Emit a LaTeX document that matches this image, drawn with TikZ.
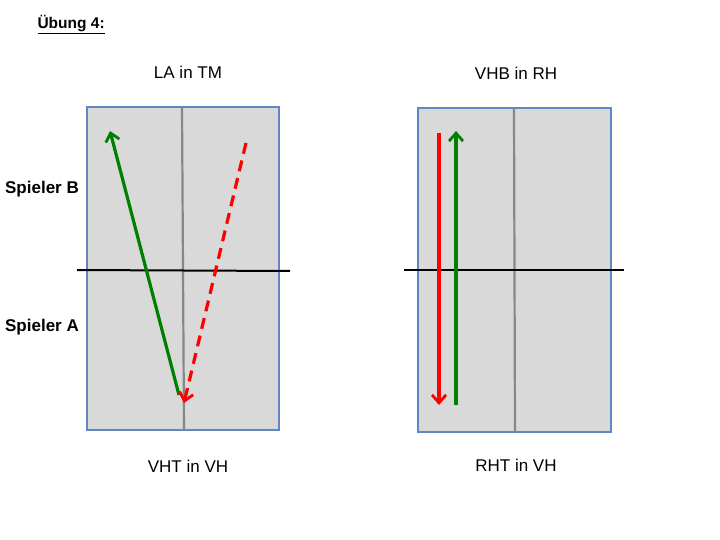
\documentclass[tikz,border=0pt]{standalone}
\usepackage{fontspec}
\setmainfont{Liberation Sans}
\usepackage{tikz}
\usetikzlibrary{calc, arrows.meta}

\definecolor{feld}{RGB}{217,217,217}
\definecolor{rand}{RGB}{95,135,195}
\definecolor{gruen}{RGB}{0,128,0}
\definecolor{mittegrau}{RGB}{135,135,135}

\tikzset{
  tisch/.style={draw=rand,line width=2.2pt,fill=feld},
  mitte/.style={draw=mittegrau,line width=2.2pt},
  netz/.style={draw=black,line width=2pt},
  ball/.style={line width=3.2pt,-{Straight Barb[length=8pt,width=14pt,line width=2.8pt]}},
  text17/.style={font=\fontsize{17}{20}\selectfont},
  textfett/.style={font=\fontsize{17}{20}\selectfont\bfseries},
}

\begin{document}
\begin{tikzpicture}[x=1pt,y=-1pt]
  \useasboundingbox (0,0) rectangle (720,540);
  \node[font=\fontsize{15.5}{18}\selectfont\bfseries,anchor=west] (titel) at (34,25) {\underline{Übung 4:}}; %Titel
  \node[textfett] (spB) at (42,189) {Spieler B};
  \node[textfett] (spA) at (42,327) {Spieler A};
  % linker Tisch
  \draw[tisch] (87,107) rectangle (279,430);
  \draw[mitte] (182,107)--(184,430);
  \draw[netz] (77,270)--(290,271);
  \node[text17] (la) at (188,72) {LA in TM};
  \node[text17] (vht) at (188,466) {VHT in VH};
  \coordinate (g1) at (179,395);
  \coordinate (g2) at (110,131);
  \coordinate (r1) at (246,143);
  \coordinate (r2) at (184,403);
  \draw[ball,gruen] (g1)--(g2);
  \draw[ball,red,dash pattern=on 11pt off 7pt] (r1)--(r2);
  % rechter Tisch
  \draw[tisch] (418,108) rectangle (611,432);
  \draw[mitte] (514,108)--(515,432);
  \draw[netz] (404,270)--(624,270);
  \node[text17] (vhb) at (516,73) {VHB in RH};
  \node[text17] (rht) at (516,465) {RHT in VH};
  \coordinate (r3) at (439,133);
  \coordinate (r4) at (439,405);
  \coordinate (g3) at (456,405);
  \coordinate (g4) at (456,131);
  \draw[ball,red] (r3)--(r4);
  \draw[ball,gruen] (g3)--(g4);
\end{tikzpicture}
\end{document}
